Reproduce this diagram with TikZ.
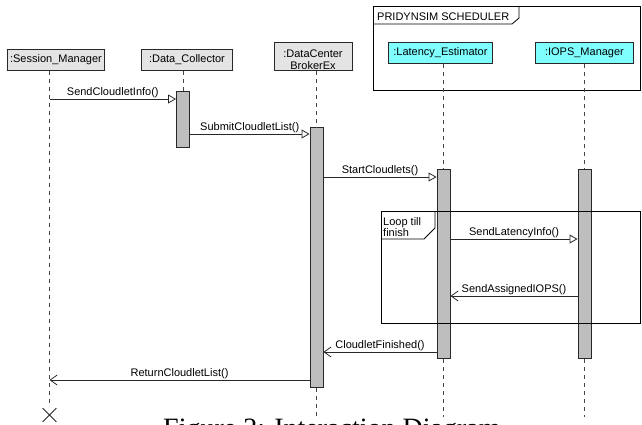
\documentclass[tikz,border=0pt]{standalone}
\usepackage{fontspec}
\setmainfont{Liberation Sans}
\newfontfamily\capfont{Liberation Serif}
\usetikzlibrary{arrows.meta,shapes.misc}

\definecolor{boxgray}{RGB}{228,228,228}
\definecolor{bargray}{RGB}{190,190,190}
\definecolor{objcyan}{RGB}{128,255,255}
\definecolor{lifegray}{RGB}{70,70,70}
\definecolor{edge}{RGB}{40,40,40}

\begin{document}
\begin{tikzpicture}[x=1pt,y=-1pt,
  every node/.style={font=\fontsize{11}{12}\selectfont},
  obj/.style={draw=edge, line width=0.9pt, fill=boxgray, inner sep=0pt,
    minimum height=21pt, anchor=north west},
  cyanobj/.style={obj, fill=objcyan},
  actbar/.style={draw=edge, line width=0.9pt, fill=bargray, inner sep=0pt,
    minimum width=13pt, anchor=north},
  life/.style={draw=lifegray, line width=0.8pt, dash pattern=on 4.5pt off 3.5pt},
  call/.style={draw=edge, line width=0.8pt,
    -{Triangle[length=8pt,width=9pt,fill=white,line width=0.8pt]}},
  reply/.style={draw=edge, line width=0.8pt,
    -{Straight Barb[length=7pt,width=10pt,line width=0.8pt]}},
  msg/.style={midway, above, inner sep=0.8pt},
  frameline/.style={draw=black, line width=0.8pt},
  lbl/.style={anchor=base west, inner sep=0pt},
]
\useasboundingbox (0,0) rectangle (642,424);

% scheduler frame around the two scheduler objects
\draw[frameline] (373,6) rectangle (640,90);
\draw[frameline] (373,24) -- (512,24) -- (519,18) -- (519,6);
\node[lbl] (schedtitle) at (377,20.5) {PRIDYNSIM SCHEDULER};

% object boxes
\node[obj, minimum width=97pt] (sm) at (7,49) {:Session\_Manager};
\node[obj, minimum width=91pt] (dcol) at (141,49) {:Data\_Collector};
\node[obj, minimum width=78pt, minimum height=28pt] (dcb) at (274,42) {};
\node[anchor=base, inner sep=0pt] (dcbA) at (313,57) {:DataCenter};
\node[anchor=base, inner sep=0pt] (dcbB) at (313,69) {BrokerEx};
\node[cyanobj, minimum width=104pt] (le) at (388,42) {:Latency\_Estimator};
\node[cyanobj, minimum width=98pt] (im) at (535,42) {:IOPS\_Manager};

% lifeline end points
\coordinate (smEnd) at (49.5,403);
\coordinate (dcbEnd) at (316.5,416);
\coordinate (leEnd) at (443.5,417);
\coordinate (imEnd) at (584.5,417);

% activation bars
\node[actbar, minimum height=56pt] (a1) at (183,91) {};
\node[actbar, minimum height=260pt] (a2) at (316.5,127) {};
\node[actbar, minimum height=189pt] (a3) at (443.5,169) {};
\node[actbar, minimum height=189pt] (a4) at (584.5,169) {};

% lifelines
\draw[life] (smEnd |- sm.south) -- (smEnd);
\draw[life] (a1.north |- dcol.south) -- (a1.north);
\draw[life] (dcbEnd |- dcb.south) -- (a2.north);
\draw[life] (a2.south) -- (dcbEnd);
\draw[life] (leEnd |- le.south) -- (a3.north);
\draw[life] (a3.south) -- (leEnd);
\draw[life] (imEnd |- im.south) -- (a4.north);
\draw[life] (a4.south) -- (imEnd);

% destruction mark
\node[cross out, draw=edge, line width=0.8pt, minimum size=13pt, inner sep=0pt] (smX) at (49.5,415) {};

% messages
\draw[call] (smEnd |- 0,99) -- (a1.west |- 0,99) node[msg] {SendCloudletInfo()};
\draw[call] (a1.east |- 0,134) -- (a2.west |- 0,134) node[msg] {SubmitCloudletList()};
\draw[call] (a2.east |- 0,177) -- (a3.west |- 0,177) node[msg] {StartCloudlets()};
\draw[call] (a3.east |- 0,239) -- (a4.west |- 0,239) node[msg] {SendLatencyInfo()};
\draw[reply] (a4.west |- 0,296) -- (a3.east |- 0,296) node[msg] {SendAssignedIOPS()};
\draw[reply] (a3.west |- 0,352) -- (a2.east |- 0,352) node[msg] {CloudletFinished()};
\draw[reply] (a2.west |- 0,380) -- (smEnd |- 0,380) node[msg] {ReturnCloudletList()};

% loop fragment
\draw[frameline] (381,211) rectangle (640,323);
\draw[frameline] (381,239) -- (424,239) -- (435,228) -- (435,211);
\node[lbl] (loopA) at (383,225.5) {Loop till};
\node[lbl] (loopB) at (383,236) {finish};

% caption
\node[anchor=base west, inner sep=0pt, font=\capfont\fontsize{28}{30}\selectfont] (cap) at (163,437) {Figure 2: Interaction Diagram};
\end{tikzpicture}
\end{document}
